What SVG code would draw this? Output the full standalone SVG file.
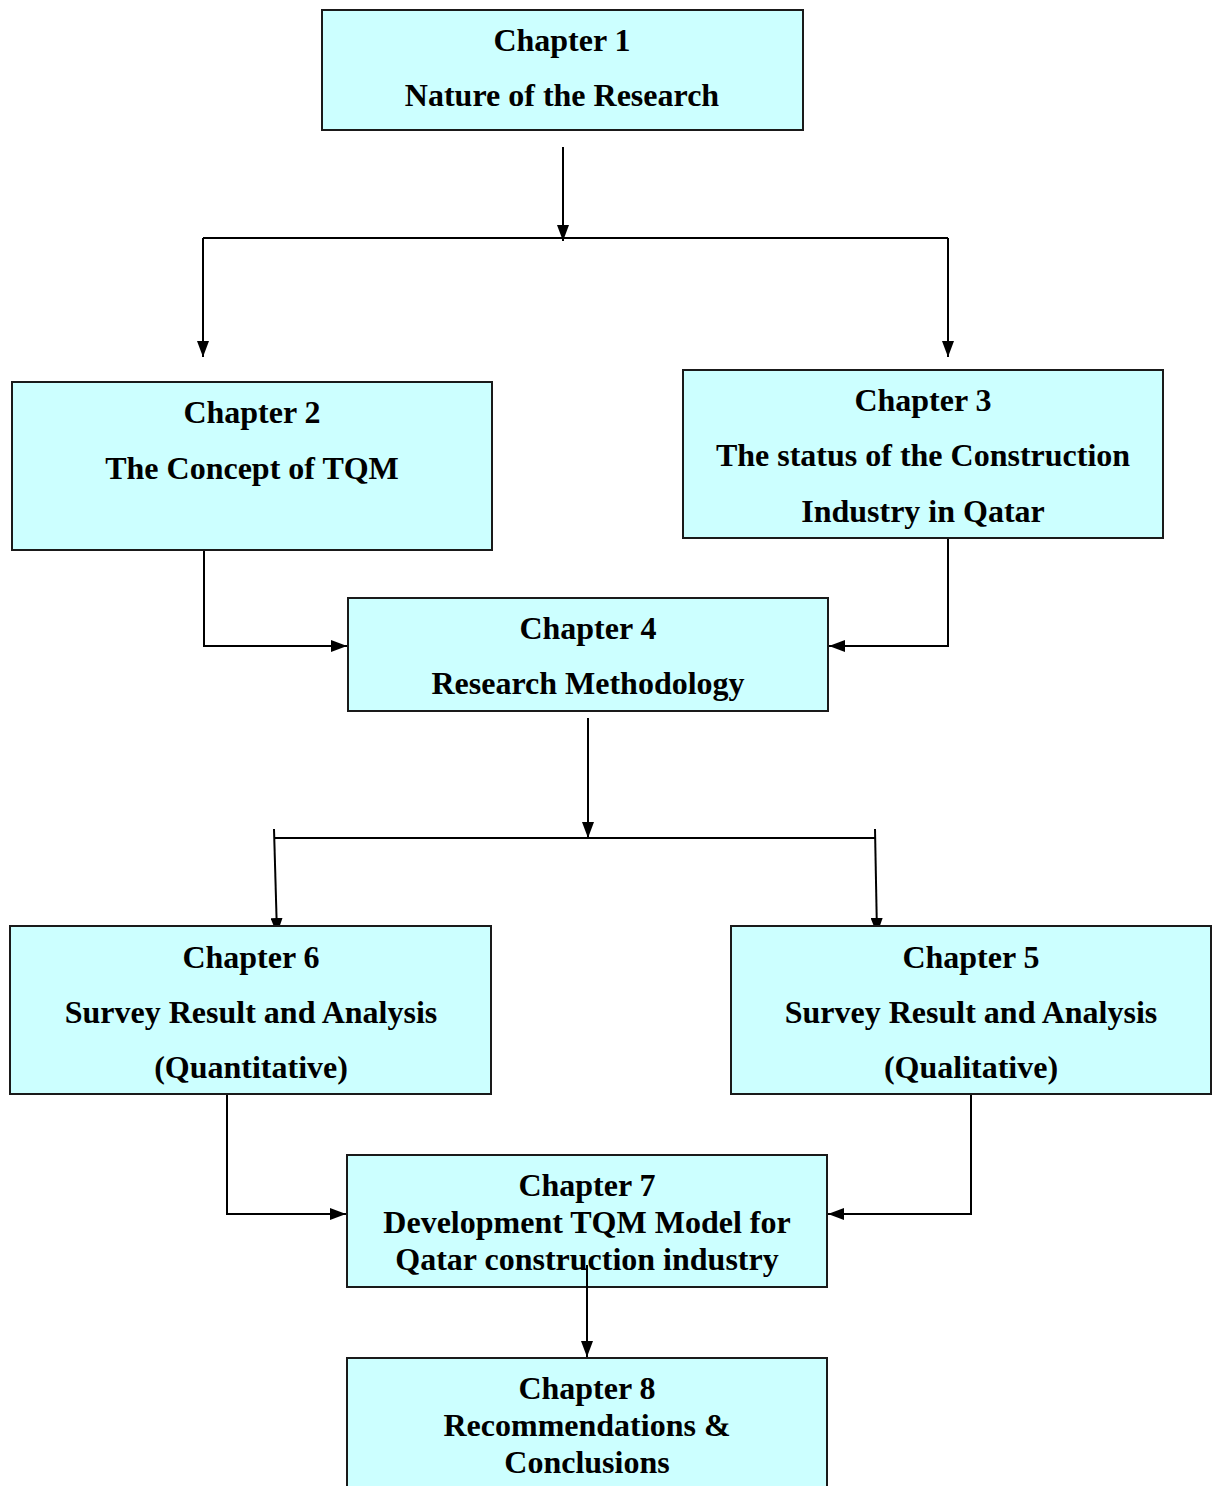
<svg xmlns="http://www.w3.org/2000/svg" width="1213" height="1486" viewBox="0 0 1213 1486">
<style>
.box{fill:#CCFFFF;stroke:#1a1a1a;stroke-width:2}
.t{font-family:"Liberation Serif","Times New Roman",serif;font-weight:bold;font-size:32px;fill:#000;text-anchor:middle}
.c{fill:none;stroke:#000;stroke-width:2}
</style>
<defs>
<marker id="ah" viewBox="0 0 16 12" refX="16" refY="6" markerWidth="16" markerHeight="12" markerUnits="userSpaceOnUse" orient="auto">
<path d="M0,0 L16,6 L0,12 z" fill="#000"/>
</marker>
</defs>
<rect width="1213" height="1486" fill="#fff"/>
<g id="connectors">
<line class="c" x1="563" y1="147" x2="563" y2="241" marker-end="url(#ah)"/>
<line class="c" x1="203" y1="238" x2="948" y2="238"/>
<line class="c" x1="203" y1="238" x2="203" y2="357" marker-end="url(#ah)"/>
<line class="c" x1="948" y1="238" x2="948" y2="357" marker-end="url(#ah)"/>
<polyline class="c" points="204,550 204,646 347,646" marker-end="url(#ah)"/>
<polyline class="c" points="948,538 948,646 829,646" marker-end="url(#ah)"/>
<line class="c" x1="588" y1="718" x2="588" y2="838" marker-end="url(#ah)"/>
<line class="c" x1="274" y1="838" x2="875" y2="838"/>
<line class="c" x1="274" y1="829" x2="277" y2="934" marker-end="url(#ah)"/>
<line class="c" x1="875" y1="829" x2="877" y2="934" marker-end="url(#ah)"/>
<polyline class="c" points="227,1094 227,1214 346,1214" marker-end="url(#ah)"/>
<polyline class="c" points="971,1094 971,1214 828,1214" marker-end="url(#ah)"/>
</g>
<g id="ch1">
<rect class="box" x="322" y="10" width="481" height="120"/>
<text class="t" x="562" y="51">Chapter 1</text>
<text class="t" x="562" y="106">Nature of the Research</text>
</g>
<g id="ch2">
<rect class="box" x="12" y="382" width="480" height="168"/>
<text class="t" x="252" y="423">Chapter 2</text>
<text class="t" x="252" y="479">The Concept of TQM</text>
</g>
<g id="ch3">
<rect class="box" x="683" y="370" width="480" height="168"/>
<text class="t" x="923" y="411">Chapter 3</text>
<text class="t" x="923" y="466">The status of the Construction</text>
<text class="t" x="923" y="522">Industry in Qatar</text>
</g>
<g id="ch4">
<rect class="box" x="348" y="598" width="480" height="113"/>
<text class="t" x="588" y="639">Chapter 4</text>
<text class="t" x="588" y="694">Research Methodology</text>
</g>
<g id="ch6">
<rect class="box" x="10" y="926" width="481" height="168"/>
<text class="t" x="251" y="968">Chapter 6</text>
<text class="t" x="251" y="1023">Survey Result and Analysis</text>
<text class="t" x="251" y="1078">(Quantitative)</text>
</g>
<g id="ch5">
<rect class="box" x="731" y="926" width="480" height="168"/>
<text class="t" x="971" y="968">Chapter 5</text>
<text class="t" x="971" y="1023">Survey Result and Analysis</text>
<text class="t" x="971" y="1078">(Qualitative)</text>
</g>
<g id="ch7">
<rect class="box" x="347" y="1155" width="480" height="132"/>
<text class="t" x="587" y="1196">Chapter 7</text>
<text class="t" x="587" y="1233">Development TQM Model for</text>
<text class="t" x="587" y="1270">Qatar construction industry</text>
</g>
<g id="connector-7-8">
<line class="c" x1="587" y1="1265" x2="587" y2="1357" marker-end="url(#ah)"/>
</g>
<g id="ch8">
<rect class="box" x="347" y="1358" width="480" height="140"/>
<text class="t" x="587" y="1399">Chapter 8</text>
<text class="t" x="587" y="1436">Recommendations &amp;</text>
<text class="t" x="587" y="1473">Conclusions</text>
</g>
</svg>
